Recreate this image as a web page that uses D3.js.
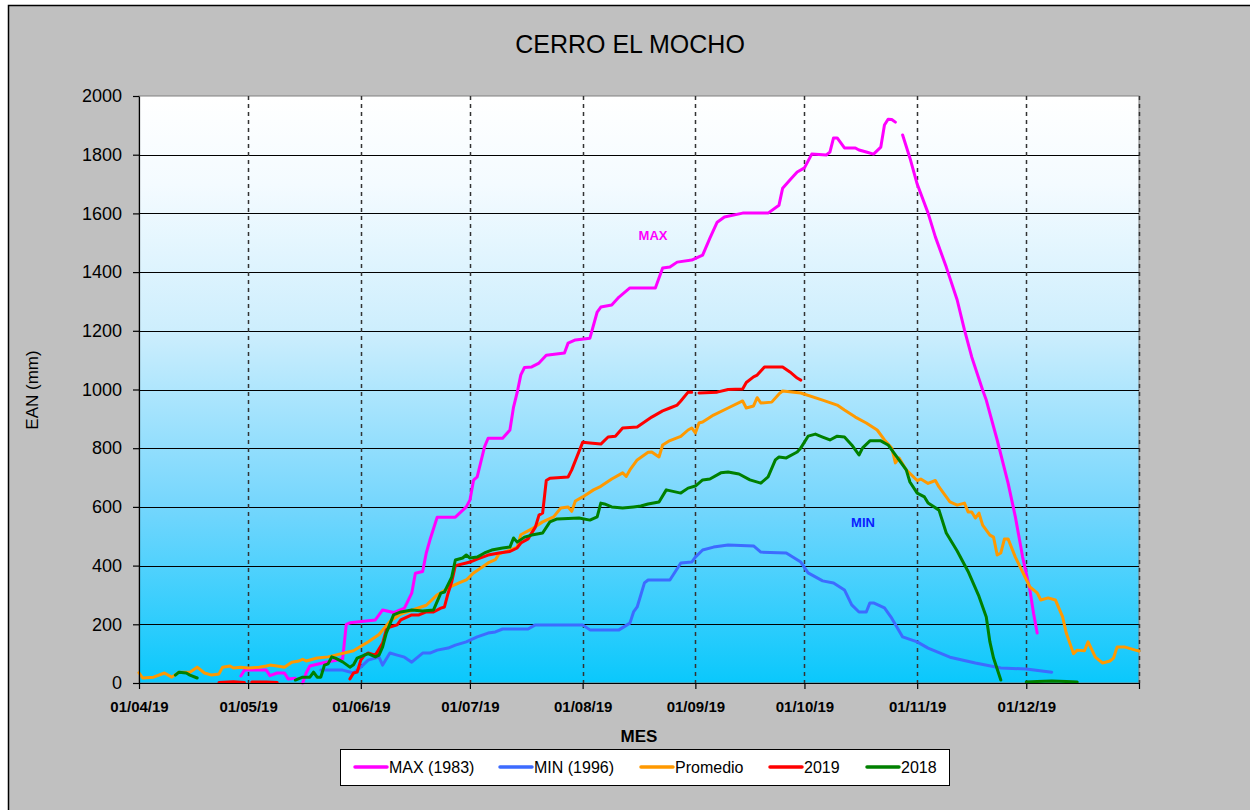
<!DOCTYPE html>
<html>
<head>
<meta charset="utf-8">
<script src="https://cdn.jsdelivr.net/npm/d3@7"></script>
<style>
body { margin: 0; background: #fff; }
svg { display: block; font-family: Arial, "Liberation Sans", sans-serif; }
</style>
</head>
<body>
<svg id="chart" width="1250" height="810"></svg>
<script>
// ---- data (dd/mm/yy, EAN mm). null = gap in the line
const max1983 = [
	["29/04/19",24],["30/04/19",44],["06/05/19",44],["07/05/19",25],["09/05/19",34],["11/05/19",34],
	["12/05/19",14],["14/05/19",16],["15/05/19",null],["16/05/19",0],["17/05/19",35],["18/05/19",58],
	["22/05/19",70],["27/05/19",82],["28/05/19",200],["29/05/19",205],["05/06/19",215],["07/06/19",249],
	["10/06/19",240],["13/06/19",255],["15/06/19",306],["16/06/19",374],["18/06/19",380],["19/06/19",443],
	["20/06/19",487],["22/06/19",565],["27/06/19",565],["30/06/19",600],["01/07/19",623],["02/07/19",691],
	["03/07/19",702],["05/07/19",804],["06/07/19",834],["10/07/19",834],["12/07/19",862],["13/07/19",940],
	["14/07/19",990],["15/07/19",1050],["16/07/19",1075],["18/07/19",1077],["20/07/19",1090],["22/07/19",1117],
	["27/07/19",1124],["28/07/19",1158],["30/07/19",1169],["03/08/19",1175],["05/08/19",1264],["06/08/19",1281],
	["09/08/19",1288],["11/08/19",1315],["14/08/19",1346],["21/08/19",1346],["23/08/19",1414],["25/08/19",1417],
	["27/08/19",1434],["31/08/19",1441],["03/09/19",1458],["05/09/19",1516],["07/09/19",1570],["09/09/19",1588],
	["14/09/19",1601],["21/09/19",1601],["24/09/19",1628],["25/09/19",1686],["27/09/19",1714],["29/09/19",1741],
	["01/10/19",1755],["03/10/19",1802],["07/10/19",1799],["08/10/19",1809],["09/10/19",1857],["10/10/19",1857],
	["12/10/19",1823],["15/10/19",1823],["16/10/19",1816],["18/10/19",1809],["20/10/19",1802],["22/10/19",1826],
	["23/10/19",1901],["24/10/19",1921],["25/10/19",1920],["26/10/19",1911],["27/10/19",null],["28/10/19",1867],
	["30/10/19",1789],["01/11/19",1700],["04/11/19",1601],["06/11/19",1520],["09/11/19",1417],["12/11/19",1305],
	["14/11/19",1203],["16/11/19",1111],["19/11/19",998],["20/11/19",964],["23/11/19",828],["26/11/19",681],
	["28/11/19",566],["30/11/19",429],["02/12/19",317],["03/12/19",238],["04/12/19",170]
];

const min1996 = [
	["21/05/19",44],["27/05/19",44],["30/05/19",34],["01/06/19",54],["03/06/19",78],["06/06/19",88],
	["07/06/19",61],["09/06/19",102],["11/06/19",95],["13/06/19",88],["15/06/19",71],["18/06/19",102],
	["20/06/19",102],["22/06/19",112],["25/06/19",119],["27/06/19",129],["30/06/19",140],["03/07/19",157],
	["06/07/19",170],["08/07/19",174],["10/07/19",184],["17/07/19",184],["19/07/19",198],["01/08/19",198],
	["03/08/19",181],["11/08/19",181],["14/08/19",204],["15/08/19",242],["16/08/19",259],["18/08/19",341],
	["19/08/19",351],["25/08/19",351],["28/08/19",409],["31/08/19",412],["01/09/19",429],["03/09/19",453],
	["06/09/19",463],["10/09/19",470],["17/09/19",467],["19/09/19",446],["26/09/19",443],["30/09/19",412],
	["02/10/19",375],["06/10/19",348],["09/10/19",341],["12/10/19",317],["14/10/19",266],["16/10/19",242],
	["18/10/19",242],["19/10/19",273],["20/10/19",273],["23/10/19",256],["25/10/19",221],["28/10/19",157],
	["01/11/19",140],["04/11/19",119],["10/11/19",88],["17/11/19",68],["24/11/19",51],["01/12/19",48],
	["08/12/19",37]
];

const promedio = [
	["01/04/19",35],["02/04/19",17],["05/04/19",20],["08/04/19",34],["10/04/19",20],["12/04/19",37],
	["15/04/19",37],["17/04/19",54],["19/04/19",34],["21/04/19",27],["23/04/19",31],["24/04/19",54],
	["26/04/19",58],["27/04/19",51],["29/04/19",54],["01/05/19",51],["04/05/19",54],["06/05/19",58],
	["07/05/19",61],["09/05/19",58],["11/05/19",54],["13/05/19",71],["15/05/19",75],["16/05/19",81],
	["17/05/19",75],["20/05/19",85],["23/05/19",89],["25/05/19",95],["28/05/19",104],["30/05/19",110],
	["01/06/19",125],["03/06/19",140],["06/06/19",165],["09/06/19",210],["12/06/19",235],["16/06/19",252],
	["19/06/19",265],["22/06/19",300],["25/06/19",324],["28/06/19",341],["30/06/19",351],["02/07/19",375],
	["04/07/19",392],["06/07/19",409],["08/07/19",420],["09/07/19",440],["12/07/19",453],["14/07/19",463],
	["15/07/19",505],["18/07/19",525],["21/07/19",549],["24/07/19",566],["26/07/19",596],["28/07/19",600],
	["29/07/19",585],["30/07/19",620],["01/08/19",634],["04/08/19",658],["06/08/19",670],["09/08/19",695],
	["12/08/19",716],["13/08/19",704],["14/08/19",726],["16/08/19",760],["19/08/19",786],["20/08/19",787],
	["22/08/19",770],["23/08/19",811],["25/08/19",826],["28/08/19",840],["30/08/19",862],["31/08/19",869],
	["01/09/19",852],["02/09/19",886],["03/09/19",889],["06/09/19",913],["10/09/19",937],["14/09/19",961],
	["15/09/19",937],["17/09/19",944],["18/09/19",972],["19/09/19",954],["22/09/19",957],["24/09/19",985],
	["25/09/19",995],["30/09/19",988],["06/10/19",964],["10/10/19",947],["12/10/19",930],["15/10/19",906],
	["18/10/19",886],["21/10/19",862],["23/10/19",828],["25/10/19",801],["26/10/19",750],["27/10/19",767],
	["29/10/19",726],["01/11/19",690],["02/11/19",695],["04/11/19",680],["06/11/19",690],["07/11/19",668],
	["10/11/19",617],["12/11/19",606],["14/11/19",613],["15/11/19",583],["16/11/19",583],["17/11/19",562],
	["18/11/19",579],["19/11/19",538],["21/11/19",504],["22/11/19",497],["23/11/19",436],["24/11/19",443],
	["25/11/19",491],["26/11/19",491],["28/11/19",429],["30/11/19",378],["02/12/19",327],["04/12/19",307],
	["05/12/19",283],["07/12/19",290],["09/12/19",283],["11/12/19",225],["12/12/19",170],["14/12/19",100],
	["15/12/19",112],["17/12/19",110],["18/12/19",140],["20/12/19",88],["21/12/19",78],["22/12/19",68],
	["24/12/19",75],["25/12/19",85],["26/12/19",123],["28/12/19",123],["31/12/19",112],["01/01/20",109]
];

const year2019 = [
	["23/04/19",2],["27/04/19",4],["30/04/19",2],["01/05/19",null],["02/05/19",3],["06/05/19",3],
	["09/05/19",2],["10/05/19",null],["29/05/19",14],["30/05/19",34],["31/05/19",37],["01/06/19",78],
	["02/06/19",95],["03/06/19",102],["05/06/19",95],["07/06/19",136],["08/06/19",181],["09/06/19",191],
	["11/06/19",198],["12/06/19",215],["15/06/19",232],["17/06/19",232],["19/06/19",242],["21/06/19",242],
	["23/06/19",255],["24/06/19",259],["25/06/19",306],["26/06/19",345],["27/06/19",400],["30/06/19",409],
	["01/07/19",412],["03/07/19",422],["06/07/19",436],["09/07/19",443],["12/07/19",448],["14/07/19",460],
	["15/07/19",477],["17/07/19",491],["19/07/19",531],["20/07/19",572],["21/07/19",579],["22/07/19",690],
	["23/07/19",698],["28/07/19",702],["29/07/19",726],["01/08/19",820],["03/08/19",818],["06/08/19",814],
	["08/08/19",838],["10/08/19",841],["12/08/19",869],["16/08/19",872],["18/08/19",889],["20/08/19",906],
	["23/08/19",927],["25/08/19",937],["27/08/19",947],["28/08/19",961],["30/08/19",991],["31/08/19",991],
	["01/09/19",null],["02/09/19",988],["07/09/19",991],["10/09/19",1000],["14/09/19",1002],["15/09/19",1024],
	["17/09/19",1043],["18/09/19",1049],["20/09/19",1077],["25/09/19",1077],["27/09/19",1060],["29/09/19",1039],
	["30/09/19",1032]
];

const year2018 = [
	["11/04/19",27],["12/04/19",37],["14/04/19",34],["15/04/19",27],["17/04/19",17],["18/04/19",null],
	["14/05/19",10],["16/05/19",20],["18/05/19",20],["19/05/19",37],["20/05/19",20],["21/05/19",20],
	["22/05/19",61],["23/05/19",65],["24/05/19",89],["25/05/19",85],["27/05/19",72],["29/05/19",54],
	["30/05/19",62],["31/05/19",85],["02/06/19",95],["03/06/19",100],["05/06/19",89],["06/06/19",95],
	["07/06/19",123],["08/06/19",170],["10/06/19",232],["12/06/19",242],["15/06/19",249],["18/06/19",245],
	["21/06/19",249],["23/06/19",306],["24/06/19",310],["26/06/19",361],["27/06/19",419],["29/06/19",426],
	["30/06/19",436],["01/07/19",426],["03/07/19",429],["05/07/19",443],["07/07/19",453],["10/07/19",460],
	["12/07/19",463],["13/07/19",494],["14/07/19",480],["16/07/19",497],["18/07/19",504],["21/07/19",511],
	["23/07/19",549],["25/07/19",559],["31/07/19",562],["03/08/19",555],["05/08/19",566],["06/08/19",613],
	["07/08/19",610],["09/08/19",600],["12/08/19",596],["15/08/19",600],["17/08/19",603],["19/08/19",610],
	["22/08/19",617],["24/08/19",658],["28/08/19",647],["30/08/19",664],["01/09/19",671],["03/09/19",692],
	["05/09/19",695],["08/09/19",716],["10/09/19",719],["13/09/19",712],["16/09/19",692],["19/09/19",681],
	["21/09/19",702],["23/09/19",760],["24/09/19",770],["26/09/19",767],["29/09/19",787],["30/09/19",801],
	["02/10/19",841],["04/10/19",848],["06/10/19",838],["08/10/19",828],["10/10/19",841],["12/10/19",838],
	["14/10/19",811],["16/10/19",777],["17/10/19",801],["19/10/19",825],["22/10/19",825],["24/10/19",811],
	["26/10/19",777],["29/10/19",726],["30/10/19",685],["01/11/19",647],["03/11/19",634],["04/11/19",613],
	["07/11/19",589],["09/11/19",511],["12/11/19",450],["15/11/19",380],["18/11/19",295],["20/11/19",225],
	["21/11/19",140],["22/11/19",85],["24/11/19",10],["25/11/19",null],["01/12/19",3],["04/12/19",5],
	["08/12/19",7],["12/12/19",5],["15/12/19",3]
];

const seriesNames = ["MAX (1983)", "MIN (1996)", "Promedio", "2019", "2018"];
const monthTicks = ["01/04/19","01/05/19","01/06/19","01/07/19","01/08/19","01/09/19",
	"01/10/19","01/11/19","01/12/19","01/01/20"];
const yTicks = [0, 200, 400, 600, 800, 1000, 1200, 1400, 1600, 1800, 2000];

// ---- setup
const parseDate = d3.timeParse("%d/%m/%y");
const formatDate = d3.timeFormat("%d/%m/%y");
const seriesData = [max1983, min1996, promedio, year2019, year2018];
const colors = ["#ff00ff", "#3d6bff", "#ff9900", "#ff0000", "#008000"];

const plot = { left: 139, right: 1139, top: 96, bottom: 683 };

const svg = d3.select('#chart');

const xScale = d3.scaleTime()
	.domain([parseDate("01/04/19"), parseDate("01/01/20")])
	.range([plot.left, plot.right]);

const yScale = d3.scaleLinear()
	.domain([0, 2000])
	.range([plot.bottom, plot.top]);

// grey chart area with black frame
svg.append('rect')
	.attr('x', 8.5).attr('y', 5.5)
	.attr('width', 1260).attr('height', 820)
	.attr('fill', '#c0c0c0')
	.attr('stroke', '#000')
	.attr('stroke-width', 1.5);

// plot background gradient, white at the top to sky blue at the bottom
const grad = svg.append('defs').append('linearGradient')
	.attr('id', 'bg').attr('x1', 0).attr('y1', 0).attr('x2', 0).attr('y2', 1);
grad.append('stop').attr('offset', '0%').attr('stop-color', '#ffffff');
grad.append('stop').attr('offset', '15%').attr('stop-color', '#f4fbff');
grad.append('stop').attr('offset', '40%').attr('stop-color', '#cdeefd');
grad.append('stop').attr('offset', '70%').attr('stop-color', '#74d6fd');
grad.append('stop').attr('offset', '100%').attr('stop-color', '#0ac8fc');

svg.append('rect')
	.attr('x', plot.left).attr('y', plot.top)
	.attr('width', plot.right - plot.left)
	.attr('height', plot.bottom - plot.top)
	.attr('fill', 'url(#bg)')
	.attr('stroke', '#808080')
	.attr('stroke-width', 1);

// horizontal gridlines
svg.append('g')
	.selectAll('line')
	.data(yTicks.filter(v => v > 0 && v < 2000))
	.enter().append('line')
		.attr('x1', plot.left).attr('x2', plot.right)
		.attr('y1', d => Math.round(yScale(d)) + 0.5)
		.attr('y2', d => Math.round(yScale(d)) + 0.5)
		.attr('stroke', '#000')
		.attr('stroke-width', 1);

// vertical dashed gridlines, one per month
svg.append('g')
	.selectAll('line')
	.data(monthTicks.slice(1).map(parseDate))
	.enter().append('line')
		.attr('x1', d => Math.round(xScale(d)) + 0.5)
		.attr('x2', d => Math.round(xScale(d)) + 0.5)
		.attr('y1', plot.top).attr('y2', plot.bottom)
		.attr('stroke', '#333')
		.attr('stroke-width', 1.5)
		.attr('stroke-dasharray', '4,4');

// lines
const line = d3.line()
	.defined(d => d[1] !== null)
	.x(d => xScale(parseDate(d[0])))
	.y(d => yScale(d[1]));

svg.append('g')
	.selectAll('path')
	.data(seriesData)
	.enter().append('path')
		.attr('d', line)
		.attr('fill', 'none')
		.attr('stroke', (d, i) => colors[i])
		.attr('stroke-width', 3)
		.attr('stroke-linejoin', 'round')
		.attr('stroke-linecap', 'round');

// axes
const yAxis = svg.append('g')
	.attr('transform', `translate(${plot.left},0)`)
	.call(d3.axisLeft(yScale)
		.tickValues(yTicks)
		.tickFormat(d3.format('d'))
		.tickSize(6).tickPadding(11).tickSizeOuter(0));
yAxis.selectAll('text')
	.style('font-size', '18px')
	.style('font-family', 'Arial, "Liberation Sans", sans-serif')
	.attr('fill', '#000');

const lastTick = monthTicks[monthTicks.length - 1];
const xAxis = svg.append('g')
	.attr('transform', `translate(0,${plot.bottom})`)
	.call(d3.axisBottom(xScale)
		.tickValues(monthTicks.map(parseDate))
		.tickFormat(d => formatDate(d) === lastTick ? '' : formatDate(d))
		.tickSize(6).tickPadding(12).tickSizeOuter(0));
xAxis.selectAll('text')
	.style('font-size', '15px')
	.style('font-weight', 'bold')
	.style('font-family', 'Arial, "Liberation Sans", sans-serif')
	.attr('fill', '#000');
svg.selectAll('.domain, .tick line').attr('stroke', '#000').attr('stroke-width', 1.2);

// titles
svg.append('text')
	.attr('x', 630).attr('y', 53)
	.attr('text-anchor', 'middle')
	.style('font-size', '25px')
	.text('CERRO EL MOCHO');

svg.append('text')
	.attr('transform', 'translate(38,390) rotate(-90)')
	.attr('text-anchor', 'middle')
	.style('font-size', '17px')
	.text('EAN (mm)');

svg.append('text')
	.attr('x', 639).attr('y', 742)
	.attr('text-anchor', 'middle')
	.style('font-size', '17px')
	.style('font-weight', 'bold')
	.text('MES');

// in-plot labels
svg.append('text')
	.attr('x', 653).attr('y', 240)
	.attr('text-anchor', 'middle')
	.style('font-size', '13px').style('font-weight', 'bold')
	.attr('fill', '#ff00ff')
	.text('MAX');

svg.append('text')
	.attr('x', 863).attr('y', 527)
	.attr('text-anchor', 'middle')
	.style('font-size', '13px').style('font-weight', 'bold')
	.attr('fill', '#0a1eff')
	.text('MIN');

// legend
const legend = svg.append('g');
legend.append('rect')
	.attr('x', 340.5).attr('y', 749.5)
	.attr('width', 609).attr('height', 36)
	.attr('fill', '#fff')
	.attr('stroke', '#000');

const legendX = [355, 500, 641, 770, 867];
const items = legend.selectAll('.item')
	.data(seriesNames)
	.enter().append('g')
		.attr('class', 'item')
		.attr('transform', (d, i) => `translate(${legendX[i]},767)`);
items.append('line')
	.attr('x1', 0).attr('x2', 32)
	.attr('stroke', (d, i) => colors[i])
	.attr('stroke-width', 3.5)
	.attr('stroke-linecap', 'round');
items.append('text')
	.attr('x', 34).attr('y', 6)
	.style('font-size', '16px')
	.text(d => d);
</script>
</body>
</html>
